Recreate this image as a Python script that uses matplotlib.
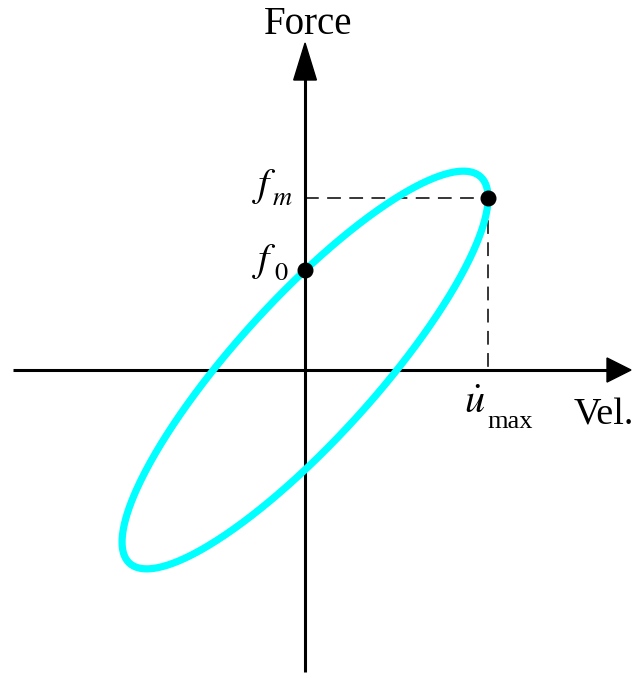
import numpy as np
import matplotlib
matplotlib.use("Agg")
import matplotlib.pyplot as plt
from matplotlib.patches import Polygon

plt.rcParams["font.family"] = ["Liberation Serif", "DejaVu Serif"]
plt.rcParams["mathtext.fontset"] = "stix"

# Loop parameters (normalised): peak velocity, force at peak velocity, force at zero velocity
u_max = 1.0
f_m = 1.0
f_0 = 0.58
axis_labels = ["Vel.", "Force"]
symbols = [r"$f$", r"$f$", r"$\dot{u}$"]
subscripts = [r"$m$", r"$0$", "max"]

# Elliptical force-velocity loop: v = u_max cos t, F = A cos(t - phi)
phi = np.arctan2(f_0, f_m)
amp = np.hypot(f_m, f_0)
t = np.linspace(0, 2 * np.pi, 600)
vel = u_max * np.cos(t)
force = amp * np.cos(t - phi)

fig = plt.figure(figsize=(6.33, 6.75), dpi=100)
ax = fig.add_axes([0, 0, 1, 1])
ax.set_xlim(-1.667, 1.792)
ax.set_ylim(-1.773, 2.151)
ax.axis("off")

# Axes with arrowheads
ax.plot([-1.596, 1.68], [0, 0], color="black", lw=2.2, solid_capstyle="butt", zorder=2)
ax.plot([0, 0], [-1.756, 1.70], color="black", lw=2.2, solid_capstyle="butt", zorder=2)
ax.add_patch(Polygon([[1.650, 0.07], [1.650, -0.07], [1.781, 0]], closed=True,
                     color="black", zorder=3))
ax.add_patch(Polygon([[-0.062, 1.686], [0.062, 1.686], [0, 1.901]], closed=True,
                     color="black", zorder=3))

# Guide lines to the peak-velocity point
ax.plot([0, u_max], [f_m, f_m], color="black", lw=1.1, dashes=(9, 5.5), zorder=2)
ax.plot([u_max, u_max], [f_m, 0], color="black", lw=1.1, dashes=(9, 5.5), zorder=2)

ax.plot(vel, force, color="#00FFFF", lw=5.2, zorder=4)

ax.plot([0, u_max], [f_0, f_m], "o", color="black", ms=10.5, zorder=5, ls="none")

# Axis titles
ax.text(0.016, 1.953, axis_labels[1], fontsize=28, ha="center", va="baseline")
ax.text(1.635, -0.314, axis_labels[0], fontsize=27.5, ha="center", va="baseline")

# Point labels: main symbol plus its subscript
main_pos = [(-0.29, f_m + 0.012), (-0.29, f_0 - 0.004), (u_max - 0.13, -0.25)]
sub_pos = [(-0.182, f_m - 0.041), (-0.17, f_0 - 0.057), (u_max - 0.005, -0.337)]
for sym, sub, mp, sp in zip(symbols, subscripts, main_pos, sub_pos):
    ax.text(*mp, sym, fontsize=29, ha="left", va="baseline")
    ax.text(*sp, sub, fontsize=19, ha="left", va="baseline")

fig.savefig("out.png", dpi=100)
